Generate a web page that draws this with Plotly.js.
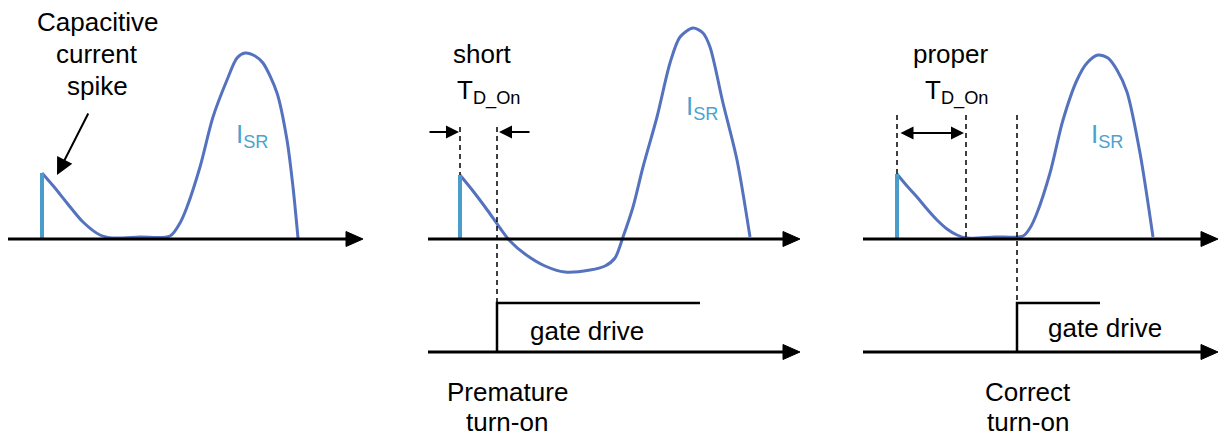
<!DOCTYPE html>
<html>
<head>
<meta charset="utf-8">
<script src="https://cdn.plot.ly/plotly-3.0.1.min.js"></script>
<style>
  html, body { margin: 0; padding: 0; background: #ffffff; }
  #chart { width: 1226px; height: 436px; }
</style>
</head>
<body>
<div id="chart"></div>
<script>
// ---- Data: sketched current waveforms (time, level) ----
// Panel 1 : capacitive spike + I_SR
var p1_t = [42, 55, 67, 83, 100, 113, 140, 170, 180, 187, 200, 213, 227, 237, 245, 255, 263, 277, 287, 293, 298];
var p1_i = [173, 188, 203, 222, 235, 238, 237, 236, 223, 207, 167, 117, 80, 58, 53, 56, 63, 93, 140, 187, 238];
// Panel 2 : premature turn-on (current goes negative)
var p2_t = [460, 473, 488, 500, 510, 525, 545, 565, 590, 605, 615, 623, 633, 643, 657, 670, 680, 693, 703, 710, 723, 737, 750];
var p2_i = [175, 191, 211, 228, 241, 254, 266, 272, 270, 266, 258, 237, 207, 167, 117, 63, 37, 28, 33, 47, 103, 160, 237];
// Panel 3 : correct turn-on
var p3_t = [897, 907, 917, 927, 937, 947, 957, 967, 995, 1023, 1030, 1037, 1050, 1063, 1077, 1087, 1098, 1108, 1117, 1127, 1140, 1153];
var p3_i = [174, 186, 197, 209, 220, 229, 235, 238, 237, 236, 228, 213, 173, 120, 80, 63, 55, 58, 70, 92, 153, 237];
// Gate drive steps
var g2_t = [497, 497, 700];
var g2_v = [352, 303, 303];
var g3_t = [1017, 1017, 1100];
var g3_v = [352, 303, 303];
// Capacitive spikes [t, peak]
var spikes_t = [42, 460, 897];
var spikes_peak = [173, 175, 174];
// Labels
var titleLines = ["Capacitive", "current", "spike"];
var caseLabels = [["Premature", "turn-on"], ["Correct", "turn-on"]];
var delayLabels = ["short", "proper"];

// ---- Styles ----
var CURVE = '#5572BE';
var SPIKE = '#4A9DCB';
var LABEL = '#4AA3CF';
var FONT = 'Liberation Sans, Arial, sans-serif';
var FS = 26;

var traces = [];
function curve(t, i) {
  traces.push({x: t, y: i, mode: 'lines', line: {color: CURVE, width: 3, shape: 'spline', smoothing: 0.8},
               hoverinfo: 'skip', showlegend: false});
}
curve(p1_t, p1_i); curve(p2_t, p2_i); curve(p3_t, p3_i);
for (var k = 0; k < spikes_t.length; k++) {
  traces.push({x: [spikes_t[k], spikes_t[k]], y: [239, spikes_peak[k]], mode: 'lines',
               line: {color: SPIKE, width: 4}, hoverinfo: 'skip', showlegend: false});
}
[[g2_t, g2_v], [g3_t, g3_v]].forEach(function (g) {
  traces.push({x: g[0], y: g[1], mode: 'lines', line: {color: '#000', width: 2.5},
               hoverinfo: 'skip', showlegend: false});
});

var shapes = [];
function axisArrow(x0, x1, y) {
  shapes.push({type: 'line', x0: x0, x1: x1 - 14, y0: y, y1: y, line: {color: '#000', width: 3}});
  shapes.push({type: 'path', path: 'M' + (x1 - 17) + ',' + (y - 7.5) + ' L' + x1 + ',' + y + ' L' + (x1 - 17) + ',' + (y + 7.5) + ' Z',
               fillcolor: '#000', line: {color: '#000', width: 1}});
}
axisArrow(8, 363, 239);
axisArrow(428, 800, 239);
axisArrow(428, 800, 352);
axisArrow(863, 1218, 239);
axisArrow(863, 1218, 352);
function dashed(x, y0, y1) {
  shapes.push({type: 'line', x0: x, x1: x, y0: y0, y1: y1, line: {color: '#000', width: 1.5, dash: '5px,4px'}});
}
dashed(460, 127, 175);
dashed(497, 127, 303);
dashed(897, 115, 174);
dashed(966, 115, 239);
dashed(1017, 115, 303);

var ann = [];
function txt(x, y, s, opts) {
  var a = {x: x, y: y, text: s, showarrow: false, xanchor: 'center', yanchor: 'middle',
           font: {family: FONT, size: FS, color: '#000'}};
  for (var key in opts) a[key] = opts[key];
  ann.push(a);
}
function arrow(x, y, ax, ay, side, size) {
  ann.push({x: x, y: y, ax: ax, ay: ay, axref: 'x', ayref: 'y', text: '', showarrow: true,
            arrowhead: 2, arrowsize: size || 1.3, arrowwidth: 2, arrowcolor: '#000', arrowside: side || 'end',
            standoff: 0, startstandoff: 0});
}
txt(97, 22, titleLines[0]);
txt(97, 54, titleLines[1]);
txt(97, 86, titleLines[2]);
arrow(57, 175, 89, 112, 'end', 1.7);
txt(482, 54, delayLabels[0]);
txt(950, 54, delayLabels[1]);
txt(455, 92, 'T<sub>D_On</sub>', {xanchor: 'left'});
txt(923, 92, 'T<sub>D_On</sub>', {xanchor: 'left'});
arrow(459, 132, 428, 132);
arrow(499, 132, 531, 132);
arrow(964, 133, 899, 133, 'end+start');
var isr = {xanchor: 'left', font: {family: FONT, size: FS, color: LABEL}};
txt(234, 135, 'I<sub>SR</sub>', isr);
txt(684, 107, 'I<sub>SR</sub>', isr);
txt(1089, 135, 'I<sub>SR</sub>', isr);
txt(587, 331, 'gate drive');
txt(1105, 328, 'gate drive');
txt(507, 392, caseLabels[0][0]);
txt(507, 422, caseLabels[0][1]);
txt(1028, 392, caseLabels[1][0]);
txt(1028, 422, caseLabels[1][1]);

var layout = {
  width: 1226, height: 436,
  margin: {l: 0, r: 0, t: 0, b: 0},
  paper_bgcolor: '#ffffff', plot_bgcolor: '#ffffff',
  xaxis: {range: [0, 1226], visible: false, fixedrange: true},
  yaxis: {range: [436, 0], visible: false, fixedrange: true},
  shapes: shapes,
  annotations: ann,
  showlegend: false
};
Plotly.newPlot('chart', traces, layout, {staticPlot: true, displayModeBar: false});
</script>
</body>
</html>
